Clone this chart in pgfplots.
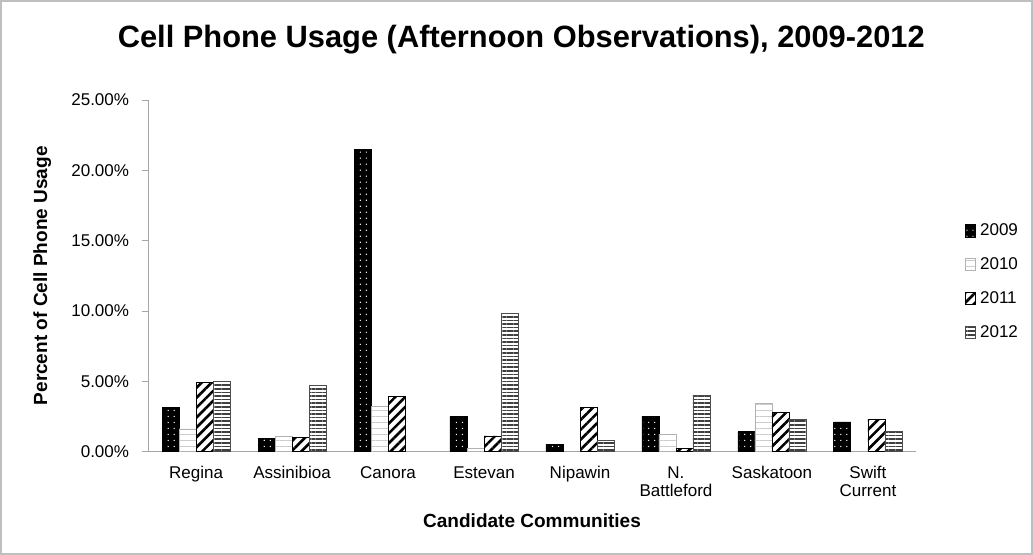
\documentclass[border=0pt]{standalone}
\usepackage{pgfplots}
\pgfplotsset{compat=1.18}
\usepackage{fontspec}
\setmainfont{Liberation Sans}
\usetikzlibrary{patterns,patterns.meta}
\begin{document}
\begin{tikzpicture}
\begin{axis}[
  scale only axis,
  width=383.5pt, height=175.5pt,
  ybar=0pt, bar width=8.5pt,
  xmin=-0.5, xmax=7.5,
  ymin=0, ymax=25,
  xtick={0,1,2,3,4,5,6,7},
  xticklabels={Regina,Assinibioa,Canora,Estevan,Nipawin,{N.\\Battleford},Saskatoon,{Swift\\Current}},
  xticklabel style={align=center, font=\fontsize{8.5}{9}\selectfont, yshift=-1pt},
  ytick={0,5,10,15,20,25},
  yticklabel={\pgfmathprintnumber[fixed,fixed zerofill,precision=2]{\tick}\%},
  yticklabel style={font=\fontsize{8.5}{10}\selectfont, xshift=-3pt},
  /pgf/number format/assume math mode=true,
  axis x line*=bottom,
  axis y line*=left,
  axis line style={gray!70},
  x axis line style={-},
  y axis line style={-},
  tick style={gray!70},
  xtick style={draw=none},
  ytick align=outside,
  major tick length=3pt,
  ylabel={Percent of Cell Phone Usage},
  every axis y label/.style={at={(rel axis cs:-0.138,0.5)}, rotate=90, anchor=center, font=\bfseries\fontsize{9.5}{11}\selectfont},
  xlabel={Candidate Communities},
  every axis x label/.style={at={(rel axis cs:0.5,-0.197)}, anchor=center, font=\bfseries\fontsize{9.5}{11}\selectfont},
  title={Cell Phone Usage (Afternoon Observations), 2009-2012},
  every axis title/.style={at={(rel axis cs:0.486,1.171)}, anchor=center, font=\bfseries\fontsize{15.4}{17}\selectfont},
  legend style={at={(rel axis cs:1.056,0.483)}, anchor=west, draw=none, fill=none,
    font=\fontsize{8.5}{10}\selectfont, row sep=5.5pt, /tikz/every even column/.append style={column sep=2pt}},
  legend image code/.code={\draw[#1] (0pt,-3pt) rectangle (5pt,3pt);},
  legend cell align=left,
]
\addplot[draw=black, fill=black, postaction={pattern={Dots[distance=3pt,radius=0.35pt]}, pattern color=white}]
  coordinates {(0,3.1) (1,0.9) (2,21.5) (3,2.5) (4,0.5) (5,2.5) (6,1.4) (7,2.1)};
\addlegendentry{2009}
\addplot[draw=gray!60, fill=white, postaction={pattern={Lines[angle=0,distance=3pt,line width=0.6pt]}, pattern color=gray!40}]
  coordinates {(0,1.6) (1,1.1) (2,3.2) (3,0.2) (5,1.2) (6,3.4)};
\addlegendentry{2010}
\addplot[draw=black, fill=white, postaction={pattern={Lines[angle=45,distance=3.5pt,line width=1.3pt]}, pattern color=black}]
  coordinates {(0,4.9) (1,1.0) (2,3.9) (3,1.1) (4,3.1) (5,0.2) (6,2.8) (7,2.3)};
\addlegendentry{2011}
\addplot[draw=black!70, fill=white, postaction={pattern={Lines[angle=0,distance=1.8pt,line width=0.8pt]}, pattern color=black!75}]
  coordinates {(0,5.0) (1,4.7) (3,9.8) (4,0.8) (5,4.0) (6,2.3) (7,1.4)};
\addlegendentry{2012}
\end{axis}
\draw[gray!50, line width=1pt] (-73.5pt,-51pt) rectangle (441.5pt,225pt);
\end{tikzpicture}
\end{document}
